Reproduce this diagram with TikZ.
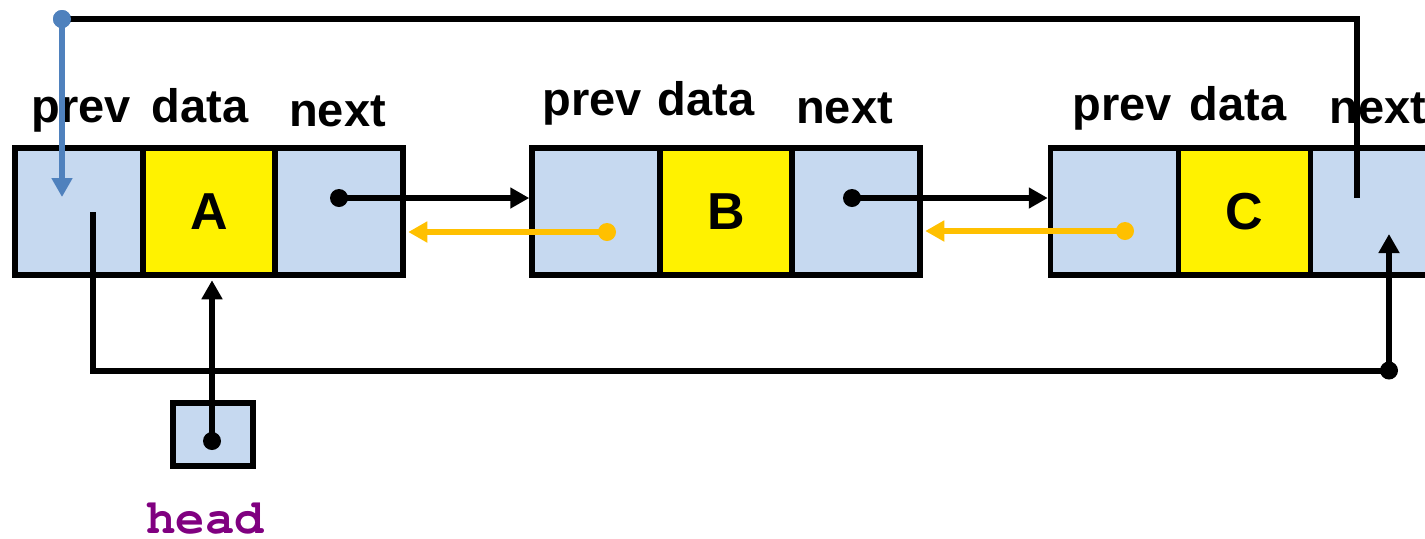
\documentclass[tikz,border=0pt]{standalone}
\usepackage{fontspec}
\setmainfont{Liberation Sans}
\usetikzlibrary{arrows.meta,calc}
\definecolor{cellblue}{HTML}{C6D9F0}
\definecolor{ptrorange}{HTML}{FFC000}
\definecolor{ptrblue}{HTML}{4F81BD}
\definecolor{headpurple}{HTML}{800080}
% bold Courier for the variable name
\newcommand{\codebold}{\fontencoding{T1}\fontfamily{pcr}\fontseries{b}\fontshape{n}\fontsize{24.5}{24.5}\selectfont}
\tikzset{
  cell/.style={draw=black, line width=2.75pt, fill=cellblue, inner sep=0pt,
    minimum width=64pt, minimum height=63.5pt},
  datacell/.style={cell, fill=yellow, minimum width=66pt,
    font=\bfseries\fontsize{26}{26}\selectfont},
  field/.style={anchor=base, inner sep=0pt, font=\bfseries\fontsize{23.5}{23.5}\selectfont},
  tip/.style={-{Triangle[length=9.5pt,width=10pt]}},
  link/.style={draw=black, line width=3pt},
  backlink/.style={draw=ptrorange, line width=3pt, tip},
  dot/.style={circle, inner sep=0pt, minimum size=9pt},
}
\begin{document}
\begin{tikzpicture}[x=0.5pt,y=-0.5pt]
\useasboundingbox (0,0) rectangle (1425,538);
\clip (0,0) rectangle (1425,538);

% node A
\node[cell] (Aprev) at (79,211.5) {};
\node[cell] (Anext) at (339,211.5) {};
\node[datacell] (Adata) at (209,211.5) {A};
% node B
\node[cell] (Bprev) at (596,211.5) {};
\node[cell] (Bnext) at (856,211.5) {};
\node[datacell] (Bdata) at (726,211.5) {B};
% node C
\node[cell] (Cprev) at (1114.5,211.5) {};
\node[cell] (Cnext) at (1373,211.5) {};
\node[datacell] (Cdata) at (1244.5,211.5) {C};

% field names
\node[field] (lAp) at (81.5,122) {prev};
\node[field] (lAd) at (200,122) {data};
\node[field] (lAn) at (337.5,126) {next};
\node[field] (lBp) at (592,115) {prev};
\node[field] (lBd) at (706,115) {data};
\node[field] (lBn) at (844.5,123) {next};
\node[field] (lCp) at (1122,120) {prev};
\node[field] (lCd) at (1238,120) {data};
\node[field] (lCn) at (1378,123) {next};

% head pointer
\node[cell, minimum width=40pt, minimum height=31.5pt] (head) at (213,434.5) {};
\node[anchor=base, inner sep=0pt, text=headpurple, font=\codebold]
  (headlbl) at (205,533) {head};
\node[dot, fill=black] (headdot) at (212,441) {};
\coordinate (Aunder) at ([yshift=-1.25pt]Adata.south);
\draw[link, tip] (headdot.center) -- (headdot.center |- Aunder);

% next pointers
\node[dot, fill=black] (Anextdot) at (339,198) {};
\node[dot, fill=black] (Bnextdot) at (852,198) {};
\draw[link, tip] (Anextdot.center) -- (Anextdot.center -| Bprev.west);
\draw[link, tip] (Bnextdot.center) -- (Bnextdot.center -| Cprev.west);

% prev pointers
\node[dot, fill=ptrorange] (Bprevdot) at (607,232) {};
\node[dot, fill=ptrorange] (Cprevdot) at (1125,231) {};
\coordinate (Aedge) at ([xshift=1.25pt]Anext.east);
\coordinate (Bedge) at ([xshift=1.25pt]Bnext.east);
\draw[backlink] (Bprevdot.center) -- (Bprevdot.center -| Aedge);
\draw[backlink] (Cprevdot.center) -- (Cprevdot.center -| Bedge);

% wrap-around: C.next -> A.prev
\coordinate (Cnextout) at (1357,198);
\node[dot, fill=ptrblue] (topdot) at (62,19) {};
\coordinate (Aprevin) at (62,197);
\draw[link] (Cnextout) |- (topdot.center);
\node[dot, fill=ptrblue] at (topdot) {};
\draw[draw=ptrblue, line width=3pt, tip] (topdot.center) -- (Aprevin);

% wrap-around: A.prev -> C.next
\coordinate (Aprevout) at (93,212);
\node[dot, fill=black] (botdot) at (1389,370.5) {};
\coordinate (Cnextin) at (1389,234);
\draw[link] (Aprevout) |- (botdot.center);
\draw[link, tip] (botdot.center) -- (Cnextin);
\end{tikzpicture}
\end{document}
